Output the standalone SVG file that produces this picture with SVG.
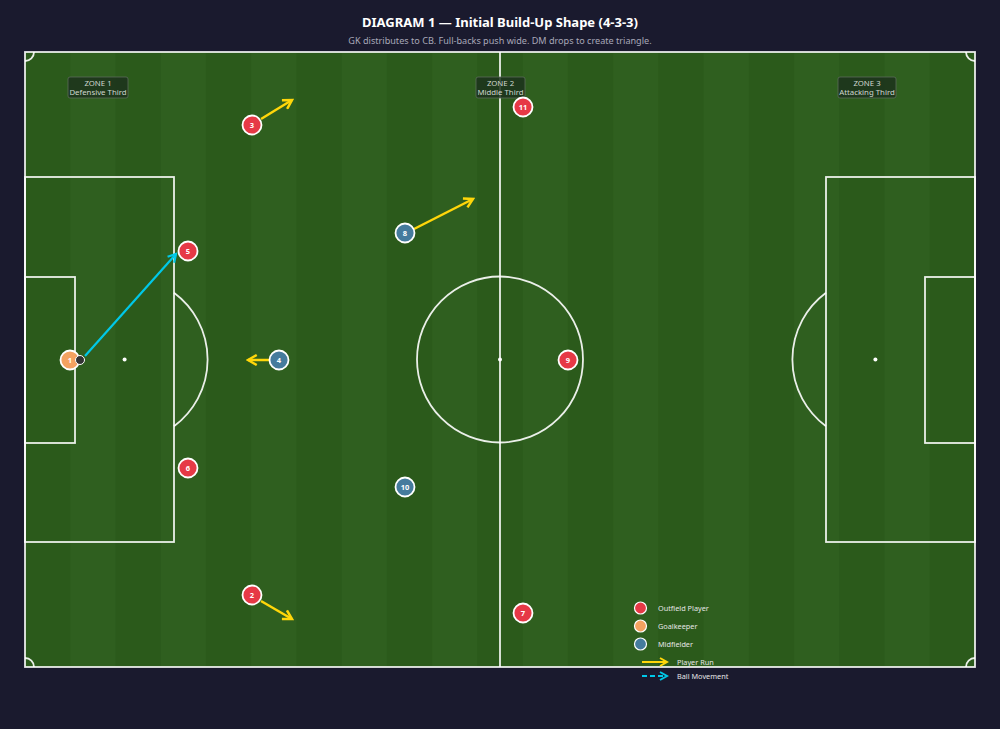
<svg xmlns="http://www.w3.org/2000/svg" width="1000" height="729" viewBox="0 0 1000 729">
<defs>
<marker id="ay" viewBox="0 0 10 10" refX="8" refY="5" markerWidth="5" markerHeight="5" orient="auto" markerUnits="strokeWidth"><path d="M1,1 L8,5 L1,9" fill="none" stroke="#ffd60a" stroke-width="2"/></marker>
<marker id="ac" viewBox="0 0 10 10" refX="8" refY="5" markerWidth="5" markerHeight="5" orient="auto" markerUnits="strokeWidth"><path d="M1,1 L8,5 L1,9" fill="none" stroke="#00c8e8" stroke-width="2"/></marker>
<style>
.ln{fill:none;stroke:#ffffff;stroke-opacity:0.9;stroke-width:1.8}
.run{fill:none;stroke:#ffd60a;stroke-width:2.5;marker-end:url(#ay)}
.ball{fill:none;stroke:#00c8e8;stroke-width:2.2;marker-end:url(#ac)}
.zbox{fill:#1c321c;fill-opacity:0.85;stroke:#5a6a5a;stroke-width:0.8}
.zt{font-family:"Noto Sans","Open Sans",sans-serif;font-size:7.8px;fill:#cfd6cf;text-anchor:middle}
.p{stroke:#ffffff;stroke-width:1.8}
.red{fill:#e63946}.org{fill:#f4a261}.blu{fill:#457b9d}
.num{font-family:"Noto Sans","Open Sans",sans-serif;font-size:7.5px;font-weight:bold;fill:#ffffff;text-anchor:middle}
.lg{font-family:"Noto Sans","Open Sans",sans-serif;font-size:7.3px;fill:#e6e6e6}
</style>
</defs>
<rect width="1000" height="729" fill="#1a1a2e"/>
<text x="500" y="27" text-anchor="middle" font-family="'Noto Sans','Open Sans',sans-serif" font-size="13" font-weight="bold" fill="#ffffff">DIAGRAM 1 — Initial Build-Up Shape (4-3-3)</text>
<text x="500" y="43.5" text-anchor="middle" font-family="'Noto Sans','Open Sans',sans-serif" font-size="9.1" fill="#a8a8b8">GK distributes to CB. Full-backs push wide. DM drops to create triangle.</text>
<g id="pitch">
<rect x="25" y="52" width="950" height="615" fill="#2b5a1b"/>
<g fill="#2f5f1f">
<rect x="70.24" y="52" width="45.24" height="615"/>
<rect x="160.71" y="52" width="45.24" height="615"/>
<rect x="251.19" y="52" width="45.24" height="615"/>
<rect x="341.67" y="52" width="45.24" height="615"/>
<rect x="432.14" y="52" width="45.24" height="615"/>
<rect x="522.62" y="52" width="45.24" height="615"/>
<rect x="613.10" y="52" width="45.24" height="615"/>
<rect x="703.57" y="52" width="45.24" height="615"/>
<rect x="794.05" y="52" width="45.24" height="615"/>
<rect x="884.52" y="52" width="45.24" height="615"/>
</g>
<rect class="ln" x="25" y="52" width="950" height="615"/>
<line class="ln" x1="500" y1="52" x2="500" y2="667"/>
<circle class="ln" cx="500" cy="359.5" r="83"/>
<circle cx="500" cy="359.5" r="2" fill="#ffffff"/>
<rect class="ln" x="25" y="177" width="149" height="365"/>
<rect class="ln" x="25" y="277" width="50" height="166"/>
<circle cx="124.6" cy="359.5" r="2" fill="#ffffff"/>
<path class="ln" d="M174,292.8 A83,83 0 0 1 174,426.2"/>
<rect class="ln" x="826" y="177" width="149" height="365"/>
<rect class="ln" x="925" y="277" width="50" height="166"/>
<circle cx="875.4" cy="359.5" r="2" fill="#ffffff"/>
<path class="ln" d="M826,292.8 A83,83 0 0 0 826,426.2"/>
<path class="ln" d="M34,52 A9,9 0 0 1 25,61"/>
<path class="ln" d="M966,52 A9,9 0 0 0 975,61"/>
<path class="ln" d="M25,658 A9,9 0 0 1 34,667"/>
<path class="ln" d="M975,658 A9,9 0 0 0 966,667"/>
</g>
<g id="zones">
<g id="zone1"><rect class="zbox" x="68" y="77" width="60" height="21" rx="2"/><text class="zt" x="98" y="86">ZONE 1</text><text class="zt" x="98" y="94.8">Defensive Third</text></g>
<g id="zone2"><rect class="zbox" x="476" y="77" width="49" height="21" rx="2"/><text class="zt" x="500.5" y="86">ZONE 2</text><text class="zt" x="500.5" y="94.8">Middle Third</text></g>
<g id="zone3"><rect class="zbox" x="838" y="77" width="58" height="21" rx="2"/><text class="zt" x="867" y="86">ZONE 3</text><text class="zt" x="867" y="94.8">Attacking Third</text></g>
</g>
<g id="connectors">
<line class="run" x1="261" y1="119" x2="292" y2="100"/>
<line class="run" x1="414" y1="229" x2="473" y2="199"/>
<line class="run" x1="269" y1="360" x2="248" y2="360"/>
<line class="run" x1="261" y1="601" x2="292" y2="619"/>
<line class="ball" x1="85" y1="356" x2="176" y2="254"/>
</g>
<g id="players">
<g id="p1"><circle class="p org" cx="70" cy="360" r="9.5"/><text class="num" x="70" y="362.7">1</text></g>
<g id="ballpos"><circle cx="80" cy="360" r="4.5" fill="#333333" stroke="#ffffff" stroke-width="1"/></g>
<g id="p5"><circle class="p red" cx="188" cy="251" r="9.5"/><text class="num" x="188" y="253.7">5</text></g>
<g id="p6"><circle class="p red" cx="188" cy="468" r="9.5"/><text class="num" x="188" y="470.7">6</text></g>
<g id="p3"><circle class="p red" cx="252" cy="125" r="9.5"/><text class="num" x="252" y="127.7">3</text></g>
<g id="p2"><circle class="p red" cx="252" cy="595" r="9.5"/><text class="num" x="252" y="597.7">2</text></g>
<g id="p4"><circle class="p blu" cx="279" cy="360" r="9.5"/><text class="num" x="279" y="362.7">4</text></g>
<g id="p8"><circle class="p blu" cx="405" cy="233" r="9.5"/><text class="num" x="405" y="235.7">8</text></g>
<g id="p10"><circle class="p blu" cx="405" cy="487" r="9.5"/><text class="num" x="405" y="489.7">10</text></g>
<g id="p11"><circle class="p red" cx="523" cy="107" r="9.5"/><text class="num" x="523" y="109.7">11</text></g>
<g id="p9"><circle class="p red" cx="568" cy="360" r="9.5"/><text class="num" x="568" y="362.7">9</text></g>
<g id="p7"><circle class="p red" cx="523" cy="613" r="9.5"/><text class="num" x="523" y="615.7">7</text></g>
</g>
<g id="legend">
<circle class="red" cx="640.5" cy="608" r="6" stroke="#ffffff" stroke-width="1.2"/>
<text class="lg" x="658" y="610.8">Outfield Player</text>
<circle class="org" cx="640.5" cy="626" r="6" stroke="#ffffff" stroke-width="1.2"/>
<text class="lg" x="658" y="628.8">Goalkeeper</text>
<circle class="blu" cx="640.5" cy="644" r="6" stroke="#ffffff" stroke-width="1.2"/>
<text class="lg" x="658" y="646.8">Midfielder</text>
<line x1="642" y1="662" x2="667" y2="662" stroke="#ffd60a" stroke-width="2" marker-end="url(#ay)"/>
<text class="lg" x="677" y="664.8">Player Run</text>
<line x1="642" y1="676" x2="667" y2="676" stroke="#00c8e8" stroke-width="2" stroke-dasharray="5,3" marker-end="url(#ac)"/>
<text class="lg" x="677" y="678.8">Ball Movement</text>
</g>
</svg>
